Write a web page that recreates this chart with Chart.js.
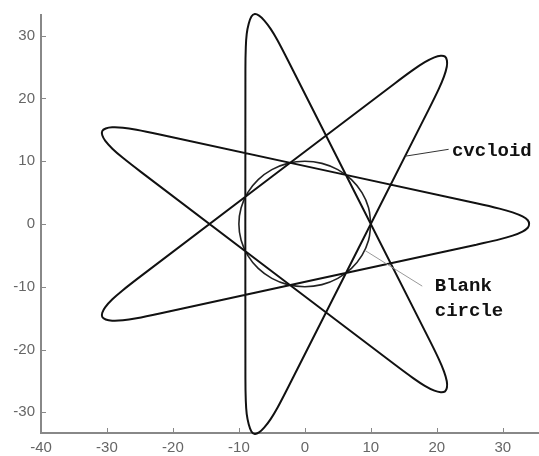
<!DOCTYPE html>
<html>
<head>
<meta charset="utf-8">
<script src="https://cdn.jsdelivr.net/npm/chart.js@4/dist/chart.umd.min.js"></script>
<style>
  html, body { margin: 0; padding: 0; background: #fff; }
  #wrap { width: 539px; height: 456px; }
</style>
</head>
<body>
<div id="wrap"><canvas id="chart"></canvas></div>
<script>
// Rounded ends of the seven-pointed cycloid, each listed from the side the
// curve arrives on to the side it leaves on. Straight runs join them.
const lobeRight = [[26.0, -3.3], [29.5, -2.45], [31.5, -1.85], [33.0, -1.2], [33.8, -0.6], [34.0, 0], [33.8, 0.6], [33.0, 1.2], [31.5, 1.85], [29.5, 2.45], [26.0, 3.3]];
const lobeUpperRight = [[18.79, 18.27], [20.31, 21.53], [21.09, 23.48], [21.52, 25.05], [21.54, 26.05], [21.26, 26.66], [20.60, 26.79], [19.64, 26.55], [18.19, 25.78], [16.47, 24.59], [13.63, 22.39]];
const lobeTop = [[-2.57, 26.08], [-4.17, 29.31], [-5.21, 31.12], [-6.17, 32.44], [-6.94, 33.2], [-7.59, 33.45], [-8.10, 33.05], [-8.51, 31.90], [-8.81, 30.30], [-8.95, 28.21], [-9.01, 24.62]];
const lobeUpperLeft = [[-22.00, 14.25], [-25.52, 15.01], [-27.58, 15.34], [-29.21, 15.40], [-30.19, 15.21], [-30.72, 14.80], [-30.71, 14.13], [-30.25, 13.24], [-29.18, 12.00], [-27.64, 10.59], [-24.86, 8.31]];
const lobeLowerLeft = [[-24.86, -8.31], [-27.64, -10.59], [-29.18, -12.00], [-30.25, -13.24], [-30.71, -14.13], [-30.72, -14.80], [-30.19, -15.21], [-29.21, -15.40], [-27.58, -15.34], [-25.52, -15.01], [-22.00, -14.25]];
const lobeBottom = [[-9.01, -24.62], [-8.95, -28.21], [-8.81, -30.30], [-8.51, -31.90], [-8.10, -33.05], [-7.59, -33.45], [-6.94, -33.2], [-6.17, -32.44], [-5.21, -31.12], [-4.17, -29.31], [-2.57, -26.08]];
const lobeLowerRight = [[13.63, -22.39], [16.47, -24.59], [18.19, -25.78], [19.64, -26.55], [20.60, -26.79], [21.26, -26.66], [21.54, -26.05], [21.52, -25.05], [21.09, -23.48], [20.31, -21.53], [18.79, -18.27]];

// the pen skips three points each time
const traceOrder = [lobeRight, lobeUpperLeft, lobeLowerRight, lobeTop, lobeBottom, lobeUpperRight, lobeLowerLeft, [lobeRight[0]]];

// blank circle in the middle
const circleX = [10, 9.66, 8.66, 7.07, 5, 2.59, 0, -2.59, -5, -7.07, -8.66, -9.66, -10, -9.66, -8.66, -7.07, -5, -2.59, 0, 2.59, 5, 7.07, 8.66, 9.66, 10];
const circleY = [0, 2.59, 5, 7.07, 8.66, 9.66, 10, 9.66, 8.66, 7.07, 5, 2.59, 0, -2.59, -5, -7.07, -8.66, -9.66, -10, -9.66, -8.66, -7.07, -5, -2.59, 0];

const xTicks = [-40, -30, -20, -10, 0, 10, 20, 30];
const yTicks = [-30, -20, -10, 0, 10, 20, 30];

// text labels with their leader lines (data units)
const notes = [
  { lines: ['cvcloid'], at: [22.3, 10.9], from: [15.2, 10.8], to: [21.8, 11.9], lead: '#333' },
  { lines: ['Blank', 'circle'], at: [19.7, -10.6], from: [9.1, -4.2], to: [17.8, -9.9], lead: '#999' }
];

const cycloidPts = traceOrder.flat().map(p => ({ x: p[0], y: p[1] }));
const circlePts = circleX.map((x, i) => ({ x: x, y: circleY[i] }));

// MATLAB style tick marks pointing into the plot
const inwardTicks = {
  id: 'inwardTicks',
  afterDraw(chart) {
    const { ctx, chartArea, scales } = chart;
    ctx.save();
    ctx.strokeStyle = '#888';
    ctx.lineWidth = 1;
    ctx.beginPath();
    xTicks.forEach(v => {
      const px = Math.round(scales.x.getPixelForValue(v)) + 0.5;
      ctx.moveTo(px, chartArea.bottom);
      ctx.lineTo(px, chartArea.bottom - 5);
    });
    yTicks.forEach(v => {
      const py = Math.round(scales.y.getPixelForValue(v)) + 0.5;
      ctx.moveTo(chartArea.left, py);
      ctx.lineTo(chartArea.left + 5, py);
    });
    ctx.stroke();
    ctx.restore();
  }
};

const labelNotes = {
  id: 'labelNotes',
  afterDatasetsDraw(chart) {
    const { ctx, scales } = chart;
    const px = v => scales.x.getPixelForValue(v);
    const py = v => scales.y.getPixelForValue(v);
    ctx.save();
    notes.forEach(n => {
      ctx.strokeStyle = n.lead;
      ctx.lineWidth = 1;
      ctx.beginPath();
      ctx.moveTo(px(n.from[0]), py(n.from[1]));
      ctx.lineTo(px(n.to[0]), py(n.to[1]));
      ctx.stroke();
      ctx.fillStyle = '#111';
      ctx.font = 'bold 19px "Liberation Mono", "Courier New", monospace';
      ctx.textBaseline = 'alphabetic';
      n.lines.forEach((t, i) => {
        ctx.fillText(t, px(n.at[0]), py(n.at[1]) + i * 25);
      });
    });
    ctx.restore();
  }
};

const tickFont = { family: '"Liberation Sans", Arial, sans-serif', size: 15 };

new Chart(document.getElementById('chart'), {
  type: 'line',
  data: {
    datasets: [
      {
        label: 'cycloid',
        data: cycloidPts,
        borderColor: '#111',
        borderWidth: 2,
        pointRadius: 0,
        tension: 0.3,
        fill: false,
        clip: false
      },
      {
        label: 'blank circle',
        data: circlePts,
        borderColor: '#222',
        borderWidth: 1.6,
        pointRadius: 0,
        tension: 0.4,
        fill: false
      }
    ]
  },
  options: {
    responsive: true,
    maintainAspectRatio: false,
    animation: false,
    layout: { padding: { top: 12, right: 0, left: 0, bottom: 0 } },
    plugins: {
      legend: { display: false },
      tooltip: { enabled: false }
    },
    scales: {
      x: {
        type: 'linear',
        min: -40,
        max: 35.5,
        grid: { display: false, drawTicks: false },
        border: { display: true, color: '#888', width: 2 },
        afterBuildTicks: s => { s.ticks = xTicks.map(v => ({ value: v })); },
        ticks: { color: '#666', font: tickFont, padding: 6, maxRotation: 0 },
        afterFit: s => { s.height = 23; }
      },
      y: {
        type: 'linear',
        min: -33.3,
        max: 33.3,
        grid: { display: false, drawTicks: false },
        border: { display: true, color: '#888', width: 2 },
        afterBuildTicks: s => { s.ticks = yTicks.map(v => ({ value: v })); },
        ticks: { color: '#666', font: tickFont, padding: 6 },
        afterFit: s => { s.width = 41; }
      }
    }
  },
  plugins: [inwardTicks, labelNotes]
});
</script>
</body>
</html>
